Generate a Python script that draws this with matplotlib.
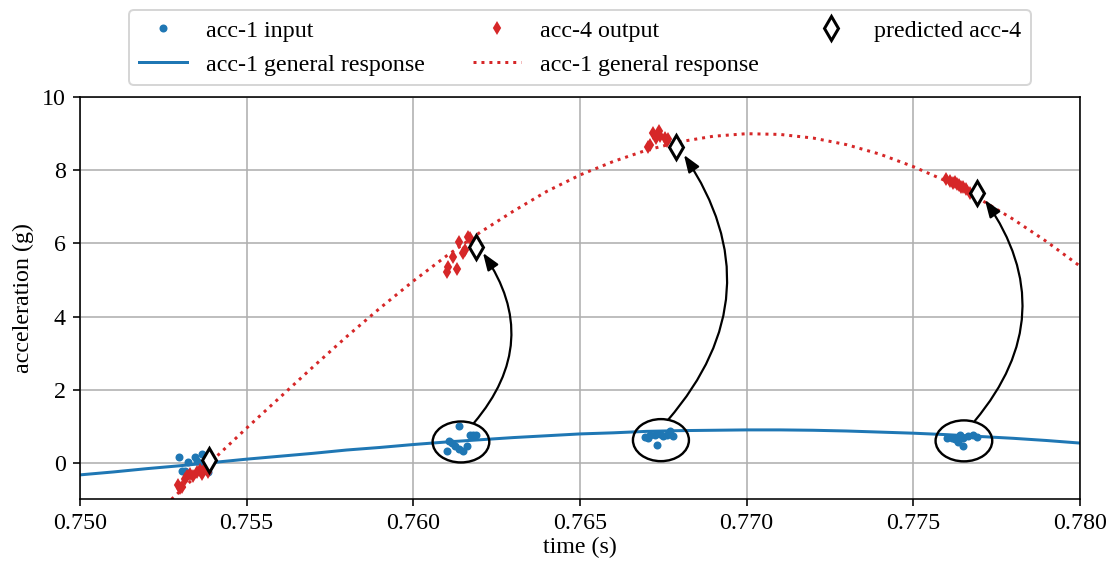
import matplotlib
matplotlib.use("Agg")
import matplotlib.pyplot as plt
from matplotlib.patches import Ellipse

plt.rcParams["font.family"] = ["Liberation Serif", "DejaVu Serif"]
plt.rcParams["font.size"] = 12
plt.rcParams["mathtext.fontset"] = "stix"

# ======================
# data
# ======================
curve_t = [0.750, 0.751, 0.752, 0.753, 0.754, 0.755, 0.756, 0.757, 0.758, 0.759,
           0.760, 0.761, 0.762, 0.763, 0.764, 0.765, 0.766, 0.767, 0.768, 0.769,
           0.770, 0.771, 0.772, 0.773, 0.774, 0.775, 0.776, 0.777, 0.778, 0.779,
           0.780]
acc1_curve = [-0.33, -0.25, -0.16, -0.08, 0.01, 0.10, 0.18, 0.26, 0.35, 0.42,
              0.50, 0.57, 0.63, 0.69, 0.74, 0.79, 0.82, 0.86, 0.88, 0.89,
              0.90, 0.90, 0.89, 0.87, 0.84, 0.81, 0.77, 0.72, 0.67, 0.61,
              0.54]
acc4_curve = [-3.29, -2.47, -1.63, -0.78, 0.09, 0.95, 1.79, 2.63, 3.45, 4.23,
              4.97, 5.66, 6.30, 6.88, 7.42, 7.87, 8.24, 8.55, 8.78, 8.93,
              9.00, 8.98, 8.88, 8.70, 8.44, 8.10, 7.70, 7.21, 6.66, 6.05,
              5.38]

# acc-1 input samples
in_t = [0.75297, 0.75325, 0.75345, 0.75365, 0.75350, 0.75305, 0.75315, 0.75375, 0.75385, 0.75370, 0.75380,
        0.76138, 0.76170, 0.76178, 0.76188, 0.76108, 0.76115, 0.76125, 0.76100, 0.76150, 0.76160, 0.76138,
        0.76695, 0.76710, 0.76725, 0.76740, 0.76750, 0.76770, 0.76780, 0.76730, 0.76760, 0.76705,
        0.77600, 0.77615, 0.77625, 0.77640, 0.77650, 0.77665, 0.77680, 0.77690, 0.77650, 0.77635]
in_acc = [0.16, 0.01, 0.16, 0.24, 0.05, -0.22, -0.22, -0.19, -0.24, -0.01, 0.08,
          1.01, 0.77, 0.77, 0.77, 0.61, 0.54, 0.46, 0.31, 0.31, 0.46, 0.37,
          0.70, 0.77, 0.77, 0.79, 0.72, 0.86, 0.72, 0.49, 0.77, 0.67,
          0.67, 0.67, 0.65, 0.77, 0.67, 0.72, 0.77, 0.70, 0.46, 0.58]

# acc-4 output samples
out_t = [0.75295, 0.75300, 0.75305, 0.75315, 0.75320, 0.75330, 0.75340, 0.75350, 0.75360, 0.75365, 0.75375, 0.75385,
         0.76138, 0.76165, 0.76120, 0.76105, 0.76100, 0.76130, 0.76150, 0.76155, 0.76170,
         0.76705, 0.76710, 0.76720, 0.76738, 0.76740, 0.76755, 0.76760, 0.76728, 0.76765,
         0.77598, 0.77610, 0.77620, 0.77630, 0.77638, 0.77648, 0.77658, 0.77670, 0.77625, 0.77642]
out_acc = [-0.60, -0.70, -0.65, -0.45, -0.35, -0.30, -0.35, -0.25, -0.20, -0.30, -0.15, -0.25,
           6.05, 6.18, 5.62, 5.36, 5.23, 5.29, 5.73, 5.82, 6.14,
           8.64, 8.69, 9.01, 9.07, 8.94, 8.87, 8.80, 8.89, 8.85,
           7.75, 7.71, 7.66, 7.62, 7.60, 7.53, 7.48, 7.39, 7.69, 7.55]

# predicted acc-4
pred_t = [0.75387, 0.76188, 0.76788, 0.77690]
pred_acc = [0.08, 5.91, 8.64, 7.39]

# annotation geometry: circled input groups and arrows to predictions
groups = [(0.76143, 0.57, 0.00170, 1.12),
          (0.76743, 0.62, 0.00168, 1.15),
          (0.77652, 0.60, 0.00170, 1.12)]
arrows = [((0.76182, 1.09), (0.76209, 5.74)),
          ((0.76764, 1.17), (0.76812, 8.42)),
          ((0.77685, 1.15), (0.77715, 7.19))]

fig = plt.figure(figsize=(1111 / 144, 563 / 144), dpi=144)
ax = fig.add_axes([0.072, 0.113, 0.9, 0.7145])

ax.plot(in_t, in_acc, ".", color="tab:blue", label="acc-1 input")
ax.plot(curve_t, acc1_curve, "-", color="tab:blue", lw=1.5, label="acc-1 general response")
ax.plot(out_t, out_acc, "d", color="tab:red", ms=3.5, label="acc-4 output")
ax.plot(curve_t, acc4_curve, ":", color="tab:red", lw=1.5, label="acc-1 general response")
ax.plot(pred_t, pred_acc, "d", ms=8.5, mfc="white", mec="black", mew=1.5,
        label="predicted acc-4", zorder=5)

for cx, cy, w, h in groups:
    ax.add_patch(Ellipse((cx, cy), w, h, fill=False, ec="black", lw=1.2, zorder=6))

for start, end in arrows:
    ax.annotate("", xy=end, xytext=start,
                arrowprops=dict(arrowstyle="-|>,head_length=0.6,head_width=0.22",
                                connectionstyle="arc3,rad=0.38",
                                color="black", lw=1.1, shrinkA=0, shrinkB=0),
                zorder=7)

ax.set_xlim(0.750, 0.780)
ax.set_ylim(-1, 10)
ax.set_xticks([0.750, 0.755, 0.760, 0.765, 0.770, 0.775, 0.780])
ax.set_xticklabels(["0.750", "0.755", "0.760", "0.765", "0.770", "0.775", "0.780"])
ax.set_yticks([0, 2, 4, 6, 8, 10])
ax.grid(True)
ax.set_axisbelow(True)
ax.set_xlabel("time (s)", labelpad=1)
ax.set_ylabel("acceleration (g)")

ax.legend(loc="lower center", bbox_to_anchor=(0.5, 1.0), ncol=3)

fig.savefig("out.png", dpi=144)
